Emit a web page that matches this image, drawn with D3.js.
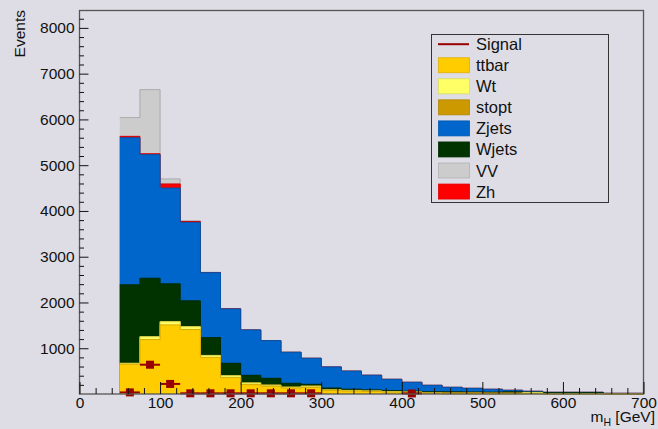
<!DOCTYPE html>
<html>
<head>
<meta charset="utf-8">
<script src="https://cdn.jsdelivr.net/npm/d3@7"></script>
<style>
  body { margin: 0; background: #dedde6; }
  svg { display: block; font-family: "Liberation Sans", Arial, sans-serif; }
</style>
</head>
<body>
<svg id="grafico" width="658" height="429"></svg>
<script>
// bins of 25 GeV from 50 to 700
const bin_edges = d3.range(50, 701, 25);

const ttbar = [650, 1190, 1510, 1410, 800, 357, 205, 170, 130, 145, 75, 65, 55, 40, 35, 15, 5, 5, 3, 3, 5, 0, 0, 0, 0, 0];
const wt    = [20, 60, 70, 60, 40, 40, 35, 22, 18, 25, 14, 10, 10, 8, 6, 3, 2, 2, 2, 2, 25, 2, 2, 2, 0, 0];
const stopt = [0, 5, 5, 5, 5, 5, 5, 5, 5, 5, 5, 5, 5, 5, 5, 15, 25, 25, 20, 20, 5, 5, 5, 5, 0, 0];
const wjets = [1715, 1275, 822, 560, 387, 269, 164, 146, 81, 37, 37, 25, 20, 20, 15, 15, 15, 12, 15, 22, 5, 22, 22, 22, 5, 5];
const zjets = [3215, 2700, 2093, 1715, 1418, 1189, 991, 823, 678, 569, 460, 395, 320, 248, 195, 142, 99, 80, 63, 34, 19, 8, 8, 8, 10, 10];
const zh    = [30, 20, 90, 20, 5, 3, 0, 0, 0, 0, 0, 0, 0, 0, 0, 0, 0, 0, 0, 0, 0, 0, 0, 0, 0, 0];
const vv    = [410, 1400, 110, 15, 5, 3, 0, 0, 0, 0, 0, 0, 0, 0, 0, 0, 0, 0, 0, 0, 0, 0, 0, 0, 0, 0];
const signal = [35, 640, 220, 15, 15, 15, 15, 15, 15, 15, 0, 0, 0, 0, 12, 0, 0, 0, 0, 0, 0, 0, 0, 0, 0, 0];

const keys = ["ttbar", "Wt", "stopt", "Wjets", "Zjets", "Zh", "VV"];
const cores = { ttbar: "#ffcc00", Wt: "#ffff66", stopt: "#cc9900", Wjets: "#003300", Zjets: "#0066cc", Zh: "#ff0000", VV: "#cccccc" };
const legend_items = ["Signal", "ttbar", "Wt", "stopt", "Zjets", "Wjets", "VV", "Zh"];

const x_ticks = d3.range(0, 701, 100);
const y_ticks = d3.range(0, 8001, 1000);

const svg = d3.select("#grafico");
const m_esq = 79.5, m_dir = 643.5, m_topo = 10.5, m_base = 394;

const x = d3.scaleLinear().domain([0, 700]).range([m_esq, m_dir]);
const y = d3.scaleLinear().domain([0, 8380]).range([m_base, m_topo]);

const linhas = bin_edges.slice(0, -1).map((lo, i) => ({
  lo: lo, hi: bin_edges[i + 1],
  ttbar: ttbar[i], Wt: wt[i], stopt: stopt[i], Wjets: wjets[i],
  Zjets: zjets[i], Zh: zh[i], VV: vv[i], signal: signal[i]
}));

const series = d3.stack().keys(keys)(linhas);

// step outline points for a stacked layer
function passos(camada) {
  const pts = [];
  camada.forEach(d => {
    pts.push([d.data.lo, d[1]]);
    pts.push([d.data.hi, d[1]]);
  });
  return pts;
}

const area = d3.area().x(p => x(p[0])).y0(y(0)).y1(p => y(p[1]));
const linha = d3.line().x(p => x(p[0])).y(p => y(p[1]));

const g_hist = svg.append("g");
// draw like THStack: largest cumulative first, lower ones paint over
series.slice().reverse().forEach(camada => {
  const pts = passos(camada);
  g_hist.append("path")
    .attr("d", area(pts))
    .attr("fill", cores[camada.key]);
  g_hist.append("path")
    .attr("d", linha(pts))
    .attr("fill", "none")
    .attr("stroke", d3.color(cores[camada.key]).darker(0.5))
    .attr("stroke-width", 1);
});

// signal points
const sinal = linhas.filter(d => d.signal > 0);
svg.append("g").selectAll("line")
  .data(sinal)
  .enter()
  .append("line")
  .attr("x1", d => x(d.lo))
  .attr("x2", d => x(d.hi))
  .attr("y1", d => y(d.signal))
  .attr("y2", d => y(d.signal))
  .attr("stroke", "#990000")
  .attr("stroke-width", 2);
svg.append("g").selectAll("rect")
  .data(sinal)
  .enter()
  .append("rect")
  .attr("x", d => x((d.lo + d.hi) / 2) - 4)
  .attr("y", d => y(d.signal) - 4)
  .attr("width", 8)
  .attr("height", 8)
  .attr("fill", "#990000");

// frame
svg.append("rect")
  .attr("x", m_esq).attr("y", m_topo)
  .attr("width", m_dir - m_esq).attr("height", m_base - m_topo)
  .attr("fill", "none")
  .attr("stroke", "#555")
  .attr("stroke-width", 1.3);

// axes
svg.append("g")
  .attr("transform", `translate(0,${m_base})`)
  .call(d3.axisBottom(x).tickValues(x_ticks).tickSize(-12).tickSizeOuter(0).tickPadding(3).tickFormat(d3.format("d")));
svg.append("g")
  .attr("transform", `translate(0,${m_base})`)
  .call(d3.axisBottom(x).tickValues(d3.range(0, 701, 20).filter(v => v % 100 !== 0)).tickSize(-6).tickSizeOuter(0).tickFormat(""));

svg.append("g")
  .attr("transform", `translate(${m_esq},0)`)
  .call(d3.axisLeft(y).tickValues(y_ticks.filter(v => v > 0)).tickSize(-9).tickSizeOuter(0).tickPadding(5).tickFormat(d3.format("d")));
svg.append("g")
  .attr("transform", `translate(${m_esq},0)`)
  .call(d3.axisLeft(y).tickValues(d3.range(200, 8381, 200).filter(v => v % 1000 !== 0)).tickSize(-4.5).tickSizeOuter(0).tickFormat(""));

svg.selectAll(".domain").remove();
svg.selectAll(".tick line").attr("stroke", "#111");
svg.selectAll(".tick text")
  .attr("font-family", "'Liberation Sans', Arial, sans-serif")
  .attr("font-size", 15.5)
  .attr("fill", "#111");

// axis titles
svg.append("text")
  .attr("transform", "translate(25,10) rotate(-90)")
  .attr("text-anchor", "end")
  .attr("font-size", 15.5)
  .attr("fill", "#111")
  .text("Events");

const titulo_x = svg.append("text")
  .attr("x", 655)
  .attr("y", 422)
  .attr("text-anchor", "end")
  .attr("font-size", 15.5)
  .attr("fill", "#111");
titulo_x.append("tspan").text("m");
titulo_x.append("tspan").attr("font-size", 10.5).attr("dy", 4).text("H");
titulo_x.append("tspan").attr("dy", -4).text(" [GeV]");

// legend
const leg = svg.append("g");
leg.append("rect")
  .attr("x", 431.5).attr("y", 34.5)
  .attr("width", 177).attr("height", 168)
  .attr("fill", "#dedde6")
  .attr("stroke", "#333")
  .attr("stroke-width", 1);

legend_items.forEach((nome, i) => {
  const cy = 44.2 + i * 21.05;
  if (nome === "Signal") {
    leg.append("line")
      .attr("x1", 438).attr("x2", 469)
      .attr("y1", cy).attr("y2", cy)
      .attr("stroke", "#990000")
      .attr("stroke-width", 2);
  } else {
    leg.append("rect")
      .attr("x", 438.5).attr("y", cy - 7.5)
      .attr("width", 31).attr("height", 15)
      .attr("fill", cores[nome])
      .attr("stroke", d3.color(cores[nome]).darker(0.4))
      .attr("stroke-width", 0.8);
  }
  leg.append("text")
    .attr("x", 476)
    .attr("y", cy + 6)
    .attr("font-size", 16.5)
    .attr("fill", "#111")
    .text(nome);
});
</script>
</body>
</html>
